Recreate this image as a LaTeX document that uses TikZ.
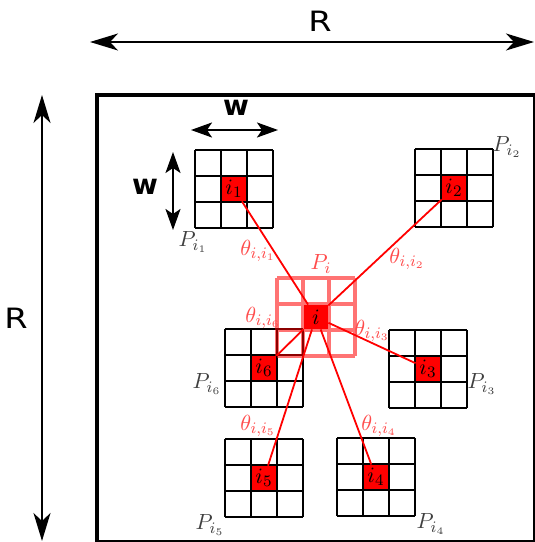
\documentclass[tikz,border=0pt]{standalone}
\usepackage{fontspec}
\newfontfamily\dimfont[FakeStretch=1.2]{DejaVu Sans}
\newfontfamily\wfont{DejaVu Sans Bold}
\usepackage{tikz}
\usetikzlibrary{arrows.meta, backgrounds}

\begin{document}
\begin{tikzpicture}[x=0.5pt, y=0.5pt,
  cell/.style={rectangle, fill=red, minimum size=12pt, inner sep=0pt,
    font=\fontsize{11}{13}\selectfont},
  patchgrid/.style={draw=black, line width=1.2pt, step=13pt},
  pigrid/.style={draw=red, line width=1.6pt, step=13pt, opacity=0.55},
  link/.style={draw=red, line width=0.9pt},
  anglabel/.style={text=red!70, font=\fontsize{11}{13}\selectfont},
  plabel/.style={text=black!75, font=\fontsize{11}{13}\selectfont},
  dimarr/.style={{Stealth[length=14pt, width=8.5pt, inset=4pt]}-{Stealth[length=14pt, width=8.5pt, inset=4pt]},
    line width=0.85pt},
  warr/.style={{Stealth[length=10.5pt, width=7.5pt, inset=2.5pt]}-{Stealth[length=10.5pt, width=7.5pt, inset=2.5pt]},
    line width=1.1pt},
  dimlabel/.style={font=\dimfont\fontsize{14}{16}\selectfont},
  wlabel/.style={font=\wfont\fontsize{14}{16}\selectfont},
]
\useasboundingbox (0,0) rectangle (535,542);
\clip (0,0) rectangle (535,542);
% ====== REGION ======
\draw[line width=1.8pt] (97,447) rectangle (534.5,0.5);
%
% ====== CENTRE CELLS ======
\node[cell] (c_i) at (316,225) {$i$};
\foreach \n/\cx/\cy/\t in {i1/234/353/i_1, i2/454/354/i_2, i3/428/173/i_3,
    i4/376/65/i_4, i5/264/64/i_5, i6/264/174/i_6}
  \node[cell] (c_\n) at (\cx,\cy) {$\t$};
%
% ====== PATCHES AND LINKS ======
\begin{scope}[on background layer]
  \foreach \cx/\cy in {234/353, 454/354, 428/173, 376/65, 264/64, 264/174}
    \draw[patchgrid, shift={(\cx-39,\cy-39)}] (0,0) grid (78,78);
  \foreach \n in {i1,i2,i3,i4,i5,i6}
    \draw[link] (c_i) -- (c_\n);
\end{scope}
\draw[pigrid, shift={(277,186)}] (0,0) grid (78,78);
%
% ====== LABELS ======
\node[anglabel] (p_i) at (321,278) {$P_i$};
\node[anglabel] (t_i1) at (258,291) {$\theta_{i,i_1}$};
\node[anglabel] (t_i2) at (407,283) {$\theta_{i,i_2}$};
\node[anglabel] (t_i3) at (372,211) {$\theta_{i,i_3}$};
\node[anglabel] (t_i4) at (379,116) {$\theta_{i,i_4}$};
\node[anglabel] (t_i5) at (258,116) {$\theta_{i,i_5}$};
\node[anglabel] (t_i6) at (263,224) {$\theta_{i,i_6}$};
\node[plabel] (p_i1) at (193,300) {$P_{i_1}$};
\node[plabel] (p_i2) at (507,395) {$P_{i_2}$};
\node[plabel] (p_i3) at (482,158) {$P_{i_3}$};
\node[plabel] (p_i4) at (431,18) {$P_{i_4}$};
\node[plabel] (p_i5) at (210,17) {$P_{i_5}$};
\node[plabel] (p_i6) at (207,158) {$P_{i_6}$};
%
% ====== DIMENSIONS ======
\coordinate (r_left) at (90,500);
\coordinate (r_right) at (534,500);
\coordinate (r_top) at (42,447);
\coordinate (r_bottom) at (42,1);
\draw[dimarr] (r_left) -- (r_right);
\draw[dimarr] (r_top) -- (r_bottom);
\node[dimlabel] (r_h) at (320,521) {R};
\node[dimlabel] (r_v) at (16,224) {R};
\coordinate (w_left) at (191,412);
\coordinate (w_right) at (278,412);
\coordinate (w_top) at (173,390);
\coordinate (w_bottom) at (173,312);
\draw[warr] (w_left) -- (w_right);
\draw[warr] (w_top) -- (w_bottom);
\node[wlabel] (w_h) at (236,434) {w};
\node[wlabel] (w_v) at (145,355) {w};
\end{tikzpicture}
\end{document}
